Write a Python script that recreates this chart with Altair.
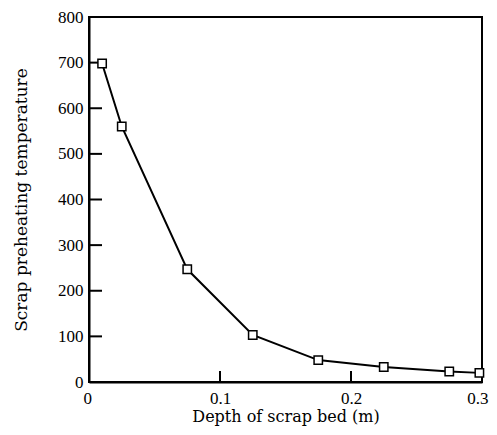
import altair as alt
import pandas as pd

depth = [0.01, 0.025, 0.075, 0.125, 0.175, 0.225, 0.275, 0.298]
temp = [698, 560, 247, 103, 48, 33, 23, 20]
y_ticks = [100, 200, 300, 400, 500, 600, 700]
x_ticks = [0.1, 0.2]

df = pd.DataFrame({"depth": depth, "temp": temp})
yt = pd.DataFrame({"v": y_ticks})
xt = pd.DataFrame({"v": x_ticks})

FONT = "Liberation Serif"
TFONT = "DejaVu Serif"
xs = alt.Scale(domain=[0, 0.3], nice=False)
ys = alt.Scale(domain=[0, 800], nice=False)

xaxis = alt.Axis(values=[0, 0.1, 0.2, 0.3], format="~g", ticks=False, grid=False,
                 labelFont=FONT, labelFontSize=17, labelColor="black", labelPadding=8,
                 titleFont=TFONT, titleFontSize=16, titleFontWeight="normal", titleColor="black",
                 titlePadding=2, domainColor="black", domainWidth=2,
                 labelFlush=True, labelFlushOffset=6)
yaxis = alt.Axis(values=[0, 100, 200, 300, 400, 500, 600, 700, 800], ticks=False, grid=False,
                 labelFont=FONT, labelFontSize=17, labelColor="black", labelPadding=6,
                 titleFont=TFONT, titleFontSize=17, titleFontWeight="normal", titleColor="black",
                 titlePadding=27, domainColor="black", domainWidth=2, labelFlush=False)

line = alt.Chart(df).mark_line(color="black", strokeWidth=2).encode(
    x=alt.X("depth:Q", scale=xs, axis=xaxis, title="Depth of scrap bed (m)"),
    y=alt.Y("temp:Q", scale=ys, axis=yaxis, title="Scrap preheating temperature"),
)
pts = alt.Chart(df).mark_point(shape="square", size=70, filled=True, fill="white",
                               stroke="black", strokeWidth=1.5, opacity=1).encode(
    x=alt.X("depth:Q", scale=xs), y=alt.Y("temp:Q", scale=ys))

ytick = alt.Chart(yt).mark_rule(color="black", strokeWidth=2).encode(
    y=alt.Y("v:Q", scale=ys), x=alt.value(0), x2=alt.value(13))
xtick = alt.Chart(xt).mark_rule(color="black", strokeWidth=2).encode(
    x=alt.X("v:Q", scale=xs), y=alt.value(365), y2=alt.value(354))

chart = alt.layer(ytick, xtick, line, pts).properties(
    width=393, height=365,
    autosize=alt.AutoSizeParams(type="none"),
    padding={"left": 81, "top": 9, "right": 7, "bottom": 45},
    background="white",
).configure_view(stroke="black", strokeWidth=2)

chart.save("out.html", embed_options={"renderer": "svg", "actions": False})
